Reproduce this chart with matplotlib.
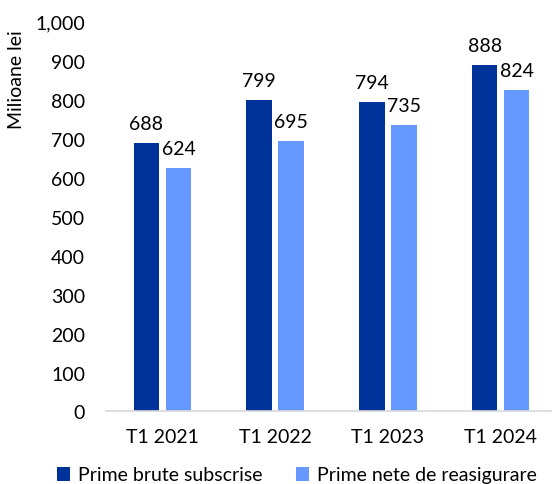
import matplotlib; matplotlib.use("Agg")
import matplotlib.pyplot as plt
import numpy as np
from matplotlib.ticker import FuncFormatter

categories = ["T1 2021", "T1 2022", "T1 2023", "T1 2024"]
prime_brute = [688, 799, 794, 888]
prime_nete = [624, 695, 735, 824]
series_names = ["Prime brute subscrise", "Prime nete de reasigurare"]
yticks = list(range(0, 1001, 100))

plt.rcParams["font.family"] = ["Lato", "DejaVu Sans"]
FS = 14
C_DARK, C_LIGHT = "#003399", "#6699FF"

fig = plt.figure(figsize=(5.52, 4.85), dpi=100)
ax = fig.add_axes([106/552, 0.1495, 1 - 106/552, 0.953 - 0.1495])
x = np.arange(len(categories))
w, off = 0.226, 0.142
b1 = ax.bar(x - off, prime_brute, w, color=C_DARK, label=series_names[0])
b2 = ax.bar(x + off, prime_nete, w, color=C_LIGHT, label=series_names[1])
for bars in (b1, b2):
    for r in bars:
        ax.annotate(f"{int(r.get_height())}", (r.get_x() + r.get_width()/2, r.get_height()),
                    xytext=(0, 8), textcoords="offset points", ha="center", va="bottom", fontsize=FS)

ax.set_xlim(-0.5, 3.456); ax.set_ylim(0, 1000)
ax.set_yticks(yticks)
ax.yaxis.set_major_formatter(FuncFormatter(lambda v, p: f"{int(v):,}"))
ax.set_xticks(x); ax.set_xticklabels(categories)
ax.tick_params(length=0, labelsize=FS)
ax.tick_params(axis="y", pad=15); ax.tick_params(axis="x", pad=12)
for s in ("top", "right", "left"): ax.spines[s].set_visible(False)
ax.spines["bottom"].set_color("#D9D9D9"); ax.spines["bottom"].set_linewidth(1.2)

fig.text(17/552, 1 - 80/485, "Milioane lei", rotation=90, ha="center", va="center", fontsize=FS)
fig.legend(handles=[b1, b2], loc="center", bbox_to_anchor=(0.538, 1 - 476/485), ncol=2, frameon=False,
           fontsize=FS, handlelength=0.7, handleheight=0.7, handletextpad=0.4, columnspacing=1.7)
fig.savefig("out.png", dpi=100)
